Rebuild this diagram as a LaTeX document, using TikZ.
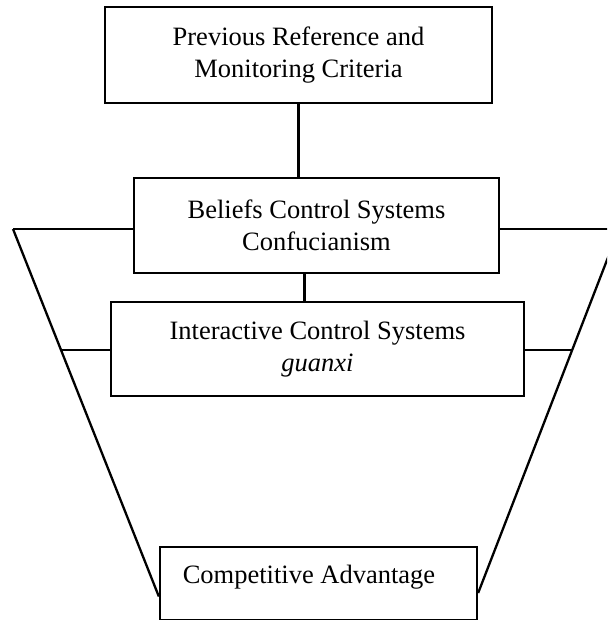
\documentclass[tikz,border=0pt]{standalone}
\usepackage{fontspec}
\setmainfont{Liberation Serif}
\begin{document}
\begin{tikzpicture}[x=1pt,y=-1pt,
  line width=2.3pt,
  box/.style={draw,rectangle,inner sep=0pt,align=center,
    font=\fontsize{26.5}{32}\selectfont},
  lbl/.style={inner sep=0pt,font=\fontsize{26.5}{32}\selectfont}]
\useasboundingbox (0,0) rectangle (607,620);
\clip (0,0) rectangle (607,620);

% the four boxes
\node[box,minimum width=387pt,minimum height=96pt] (prev) at (298.5,55)
  {Previous Reference and\\Monitoring Criteria};
\node[box,minimum width=365pt,minimum height=95pt] (bel) at (316.5,225.5)
  {Beliefs Control Systems\\Confucianism};
\node[box,minimum width=413pt,minimum height=94pt] (inter) at (317.5,349)
  {Interactive Control Systems\\\textit{guanxi}};
\node[box,minimum width=317pt,minimum height=73pt] (adv) at (318.5,583.5) {};
\node[lbl,anchor=base] (advtext) at (309,583) {Competitive Advantage};

% funnel outline
\coordinate (TL) at (13,229);
\coordinate (TR) at (619,229);
\coordinate (ML) at (61.4,350);
\coordinate (MR) at (571,350);
\draw (TL) -- (adv.west |- 0,596.5);
\draw (TR) -- (adv.east |- 0,593);

% links between the levels
\draw (prev.south) -- (prev.south |- bel.north);
\draw ([xshift=-12pt]bel.south) -- ([xshift=-12pt]bel.south |- inter.north);
\draw (TL) -- (bel.west |- TL);
\draw (bel.east |- TR) -- (TR);
\draw (ML) -- (inter.west |- ML);
\draw (inter.east |- MR) -- (MR);
\end{tikzpicture}
\end{document}
